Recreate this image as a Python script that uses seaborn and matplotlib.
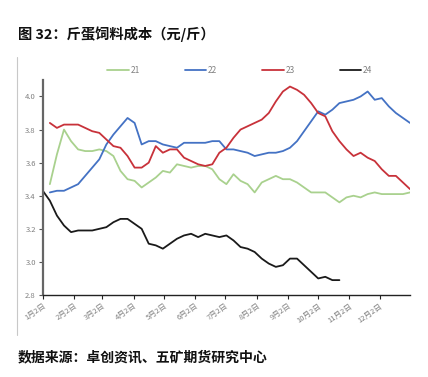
import numpy as np
import pandas as pd
import matplotlib
matplotlib.use('Agg')
import matplotlib.pyplot as plt
import seaborn as sns
from matplotlib.lines import Line2D

# weekly feed cost per jin of egg, by year
y21 = [3.47, 3.65, 3.80, 3.73, 3.68, 3.67, 3.67, 3.68, 3.67, 3.64, 3.55, 3.50, 3.49,
       3.45, 3.48, 3.51, 3.55, 3.54, 3.59, 3.58, 3.57, 3.58, 3.58, 3.56, 3.50, 3.47,
       3.53, 3.49, 3.47, 3.42, 3.48, 3.50, 3.52, 3.50, 3.50, 3.48, 3.45, 3.42, 3.42,
       3.42, 3.39, 3.36, 3.39, 3.40, 3.39, 3.41, 3.42, 3.41, 3.41, 3.41, 3.41, 3.42]
y22 = [3.42, 3.43, 3.43, 3.45, 3.47, 3.52, 3.57, 3.62, 3.71, 3.77, 3.82, 3.87, 3.84,
       3.71, 3.73, 3.73, 3.71, 3.70, 3.69, 3.72, 3.72, 3.72, 3.72, 3.73, 3.73, 3.68,
       3.68, 3.67, 3.66, 3.64, 3.65, 3.66, 3.66, 3.67, 3.69, 3.73, 3.79, 3.85, 3.91,
       3.89, 3.92, 3.96, 3.97, 3.98, 4.00, 4.03, 3.98, 3.99, 3.94, 3.90, 3.87, 3.84]
y23 = [3.84, 3.81, 3.83, 3.83, 3.83, 3.81, 3.79, 3.78, 3.74, 3.70, 3.69, 3.64, 3.57,
       3.57, 3.60, 3.70, 3.66, 3.68, 3.68, 3.63, 3.61, 3.59, 3.58, 3.59, 3.66, 3.69,
       3.75, 3.80, 3.82, 3.84, 3.86, 3.90, 3.97, 4.03, 4.06, 4.04, 4.01, 3.96, 3.90,
       3.88, 3.79, 3.73, 3.68, 3.64, 3.66, 3.63, 3.61, 3.56, 3.52, 3.52, 3.48, 3.44]
y24 = [3.43, 3.37, 3.28, 3.22, 3.18, 3.19, 3.19, 3.19, 3.20, 3.21, 3.24, 3.26, 3.26,
       3.23, 3.20, 3.11, 3.10, 3.08, 3.11, 3.14, 3.16, 3.17, 3.15, 3.17, 3.16, 3.15,
       3.16, 3.13, 3.09, 3.08, 3.06, 3.02, 2.99, 2.97, 2.98, 3.02, 3.02, 2.98, 2.94,
       2.90, 2.91, 2.89, 2.89]

month_labels = ['1月2日', '2月2日', '3月2日', '4月2日', '5月2日', '6月2日',
                '7月2日', '8月2日', '9月2日', '10月2日', '11月2日', '12月2日']
month_days = [0, 31, 59, 90, 120, 151, 181, 212, 243, 273, 304, 334]

frames = []
for name, vals, start in [('21', y21, 1), ('22', y22, 1), ('23', y23, 1), ('24', y24, 0)]:
    frames.append(pd.DataFrame({'week': np.arange(start, start + len(vals)),
                                'cost': vals, 'year': name}))
df = pd.concat(frames, ignore_index=True)

sns.set_style('white')
plt.rcParams['font.family'] = ['Noto Sans CJK SC', 'DejaVu Sans']

palette = {'21': '#a9d18e', '22': '#4472c4', '23': '#c8323a', '24': '#1a1a1a'}

fig = plt.figure(figsize=(4.28, 3.77), dpi=100)
ax = fig.add_axes([0.100, 0.2175, 0.858, 0.5705])

sns.lineplot(data=df, x='week', y='cost', hue='year', palette=palette,
             linewidth=1.3, ax=ax, legend=False)

ax.set_xlim(0, 52)
ax.set_ylim(2.8, 4.1)
ax.set_yticks([2.8, 3.0, 3.2, 3.4, 3.6, 3.8, 4.0])
ax.set_yticklabels(['2.8', '3.0', '3.2', '3.4', '3.6', '3.8', '4.0'])
ax.set_xticks([d / 7 for d in month_days])
ax.set_xticklabels(month_labels, rotation=35, ha='right', rotation_mode='anchor')
ax.set_xlabel('')
ax.set_ylabel('')
ax.tick_params(axis='both', labelsize=5.5, length=3, width=0.8,
               pad=2, left=True, bottom=True)
ax.tick_params(axis='x', colors='#222222', labelcolor='#808080')
ax.tick_params(axis='y', colors='#555555', labelcolor='#808080')
for s in ['top', 'right']:
    ax.spines[s].set_visible(False)
ax.spines['left'].set_color('#666666')
ax.spines['left'].set_linewidth(1.6)
ax.spines['bottom'].set_color('#222222')
ax.spines['bottom'].set_linewidth(1.0)

handles = [Line2D([0], [0], color=palette[k], lw=1.3) for k in ['21', '22', '23', '24']]
leg = fig.legend(handles, ['21', '22', '23', '24'], loc='center',
                 bbox_to_anchor=(0.56, 0.812), ncol=4, frameon=False,
                 fontsize=6, handlelength=2.6, columnspacing=5.4, handletextpad=0.2)
for t in leg.get_texts():
    t.set_color('#808080')

fig.text(0.042, 0.91, '图 32：斤蛋饲料成本（元/斤）', fontsize=10.3,
         fontweight='bold', color='#111111', va='center')
fig.text(0.042, 0.052, '数据来源：卓创资讯、五矿期货研究中心', fontsize=10,
         fontweight='bold', color='#111111', va='center')
fig.add_artist(Line2D([0.040, 0.040], [1 - 57 / 377, 1 - 335 / 377],
                      transform=fig.transFigure, color='#c8c8c8', lw=0.8))

fig.savefig('out.png', dpi=100)
